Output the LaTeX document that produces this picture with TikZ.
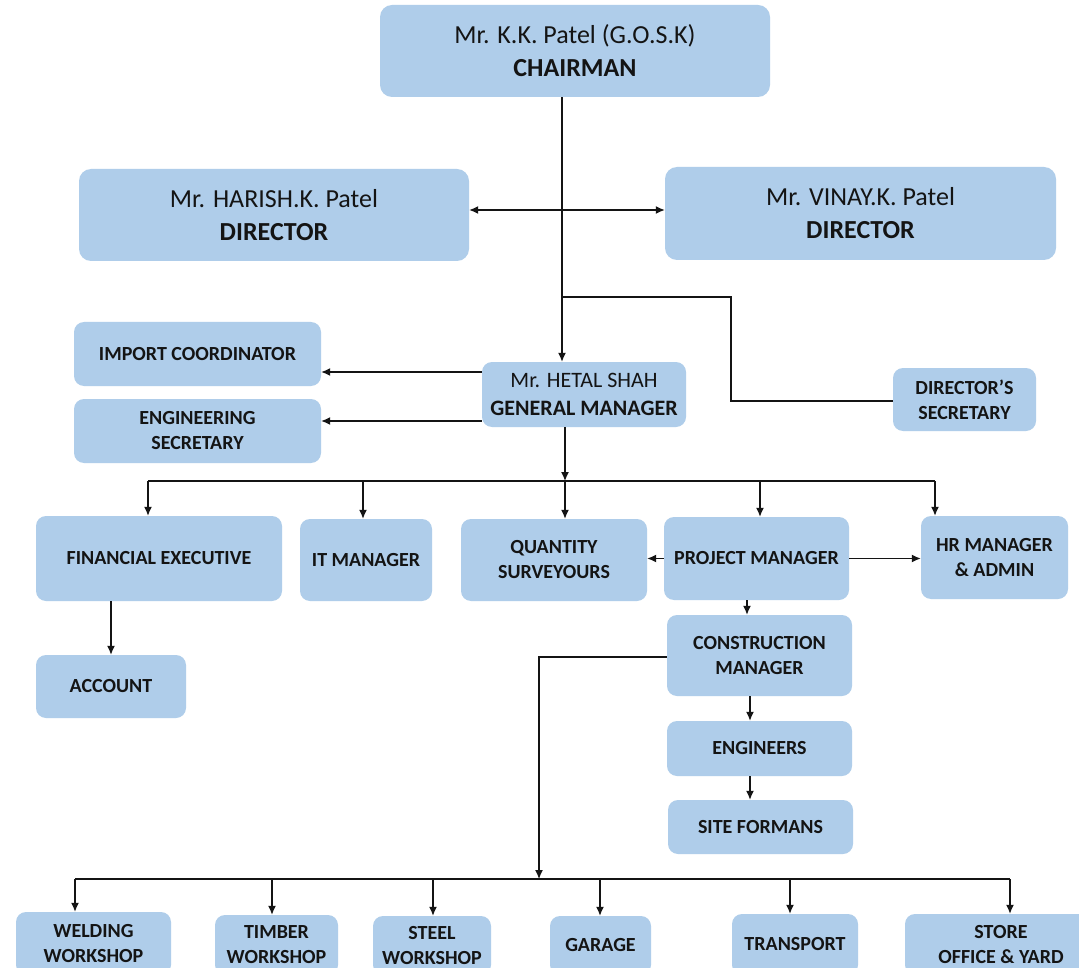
\documentclass[tikz,border=0pt]{standalone}
\usepackage{fontspec}
\setmainfont{Carlito}
\usetikzlibrary{arrows.meta,calc}
\definecolor{boxblue}{RGB}{175,205,234}
\definecolor{ink}{RGB}{20,20,20}
\newcommand\lblfont{\fontsize{20}{25}\selectfont\bfseries}
\newcommand\bigfont{\fontsize{26}{33}\selectfont}
\newcommand\gmfont{\fontsize{22}{28}\selectfont}
\begin{document}
\begin{tikzpicture}[x=1pt,y=-1pt,
 box/.style={fill=boxblue, rounded corners=10pt, align=center, inner sep=0pt, text=ink, font=\lblfont},
 line/.style={draw=ink, line width=1.3pt},
 arr/.style={line, -{Latex[length=9pt,width=8pt]}},
 arrb/.style={line, {Latex[length=9pt,width=8pt]}-{Latex[length=9pt,width=8pt]}}]
\useasboundingbox (0,0) rectangle (1079,968);
\fill[white] (0,0) rectangle (1079,968);
% top
\node[box, minimum width=390pt, minimum height=92pt, font=\bigfont, rounded corners=12pt] (chair) at (575,51) {Mr. K.K. Patel (G.O.S.K)\\\textbf{CHAIRMAN}};
\node[box, minimum width=390pt, minimum height=92pt, font=\bigfont, rounded corners=12pt] (harish) at (274,215) {Mr. HARISH.K. Patel\\\textbf{DIRECTOR}};
\node[box, minimum width=391pt, minimum height=93pt, font=\bigfont, rounded corners=12pt] (vinay) at (860.5,213.5) {Mr. VINAY.K. Patel\\\textbf{DIRECTOR}};
% middle
\node[box, minimum width=247pt, minimum height=64pt] (imp) at (197.5,354) {IMPORT COORDINATOR};
\node[box, minimum width=247pt, minimum height=64pt] (engsec) at (197.5,431) {ENGINEERING\\SECRETARY};
\node[box, minimum width=204pt, minimum height=65pt, font=\gmfont] (gm) at (584,394.5) {Mr. HETAL SHAH\\\textbf{GENERAL MANAGER}};
\node[box, minimum width=143pt, minimum height=63pt] (dsec) at (964.5,399.5) {DIRECTOR’S\\SECRETARY};
% departments
\node[box, minimum width=246pt, minimum height=85pt] (fin) at (159,558.5) {FINANCIAL EXECUTIVE};
\node[box, minimum width=132pt, minimum height=82pt] (it) at (366,560) {IT MANAGER};
\node[box, minimum width=186pt, minimum height=82pt] (qs) at (554,560) {QUANTITY\\SURVEYOURS};
\node[box, minimum width=185pt, minimum height=83pt] (pm) at (756.5,558.5) {PROJECT MANAGER};
\node[box, minimum width=147pt, minimum height=83pt] (hr) at (994.5,557.5) {HR MANAGER\\\& ADMIN};
\node[box, minimum width=150pt, minimum height=63pt] (acc) at (111,686.5) {ACCOUNT};
\node[box, minimum width=185pt, minimum height=81pt] (cm) at (759.5,655.5) {CONSTRUCTION\\MANAGER};
\node[box, minimum width=185pt, minimum height=55pt] (eng) at (759.5,748.5) {ENGINEERS};
\node[box, minimum width=185pt, minimum height=54pt] (site) at (760.5,827) {SITE FORMANS};
% bottom row
\node[box, minimum width=155pt, minimum height=63pt] (weld) at (93.5,943.5) {WELDING\\WORKSHOP};
\node[box, minimum width=123pt, minimum height=60pt] (timber) at (276.5,945) {TIMBER\\WORKSHOP};
\node[box, minimum width=118pt, minimum height=59pt] (steel) at (432,945.5) {STEEL\\WORKSHOP};
\node[box, minimum width=101pt, minimum height=59pt] (garage) at (600.5,945.5) {GARAGE};
\node[box, minimum width=126pt, minimum height=61pt] (transport) at (795,944.5) {TRANSPORT};
\node[box, minimum width=192pt, minimum height=61pt] (store) at (1001,944.5) {STORE\\OFFICE \& YARD};
% connectors
\draw[arr] ([xshift=-13pt]chair.south) -- ([xshift=-13pt]chair.south |- gm.north);
\draw[arrb] ([yshift=5pt]harish.east) -- ([yshift=5pt]harish.east -| vinay.west);
\coordinate (j1) at (563,297);
\draw[line] (j1) -- ++(168,0) |- ([yshift=-1.5pt]dsec.west);
\draw[arr] ([yshift=22.5pt]gm.west) -- ([yshift=22.5pt]gm.west -| imp.east);
\draw[arr] ([yshift=-26.5pt]gm.west) -- ([yshift=-26.5pt]gm.west -| engsec.east);
\coordinate (bus1) at (565,481);
\draw[arr] ([xshift=-19pt]gm.south) -- (bus1);
\draw[line] ([xshift=-11pt]fin.north |- bus1) -- ([xshift=-59.5pt]hr.north |- bus1);
\draw[arr] ([xshift=-11pt]fin.north |- bus1) -- ([xshift=-11pt]fin.north);
\draw[arr] ([xshift=-3pt]it.north |- bus1) -- ([xshift=-3pt]it.north);
\draw[arr] ([xshift=11pt]qs.north |- bus1) -- ([xshift=11pt]qs.north);
\draw[arr] ([xshift=3.5pt]pm.north |- bus1) -- ([xshift=3.5pt]pm.north);
\draw[arr] ([xshift=-59.5pt]hr.north |- bus1) -- ([xshift=-59.5pt]hr.north);
\draw[arr] (pm.west) -- (pm.west -| qs.east);
\draw[arr] (pm.east) -- (pm.east -| hr.west);
\draw[arr] ([xshift=-9.5pt]pm.south) -- ([xshift=-9.5pt]pm.south |- cm.north);
\draw[arr] ([xshift=-48pt]fin.south) -- (acc.north);
\draw[arr] ([xshift=-9.5pt]cm.south) -- ([xshift=-9.5pt]cm.south |- eng.north);
\draw[arr] ([xshift=-9.5pt]eng.south) -- ([xshift=-9.5pt]eng.south |- site.north);
\coordinate (bus2) at (539,879);
\draw[arr] ([yshift=-1.5pt]cm.west) -| (bus2);
\draw[line] ([xshift=-18.5pt]weld.north |- bus2) -- ([xshift=9pt]store.north |- bus2);
\draw[arr] ([xshift=-18.5pt]weld.north |- bus2) -- ([xshift=-18.5pt]weld.north);
\draw[arr] ([xshift=-4.5pt]timber.north |- bus2) -- ([xshift=-4.5pt]timber.north);
\draw[arr] ([xshift=1pt]steel.north |- bus2) -- ([xshift=1pt]steel.north);
\draw[arr] ([xshift=-0.5pt]garage.north |- bus2) -- ([xshift=-0.5pt]garage.north);
\draw[arr] ([xshift=-5pt]transport.north |- bus2) -- ([xshift=-5pt]transport.north);
\draw[arr] ([xshift=9pt]store.north |- bus2) -- ([xshift=9pt]store.north);
\end{tikzpicture}
\end{document}
